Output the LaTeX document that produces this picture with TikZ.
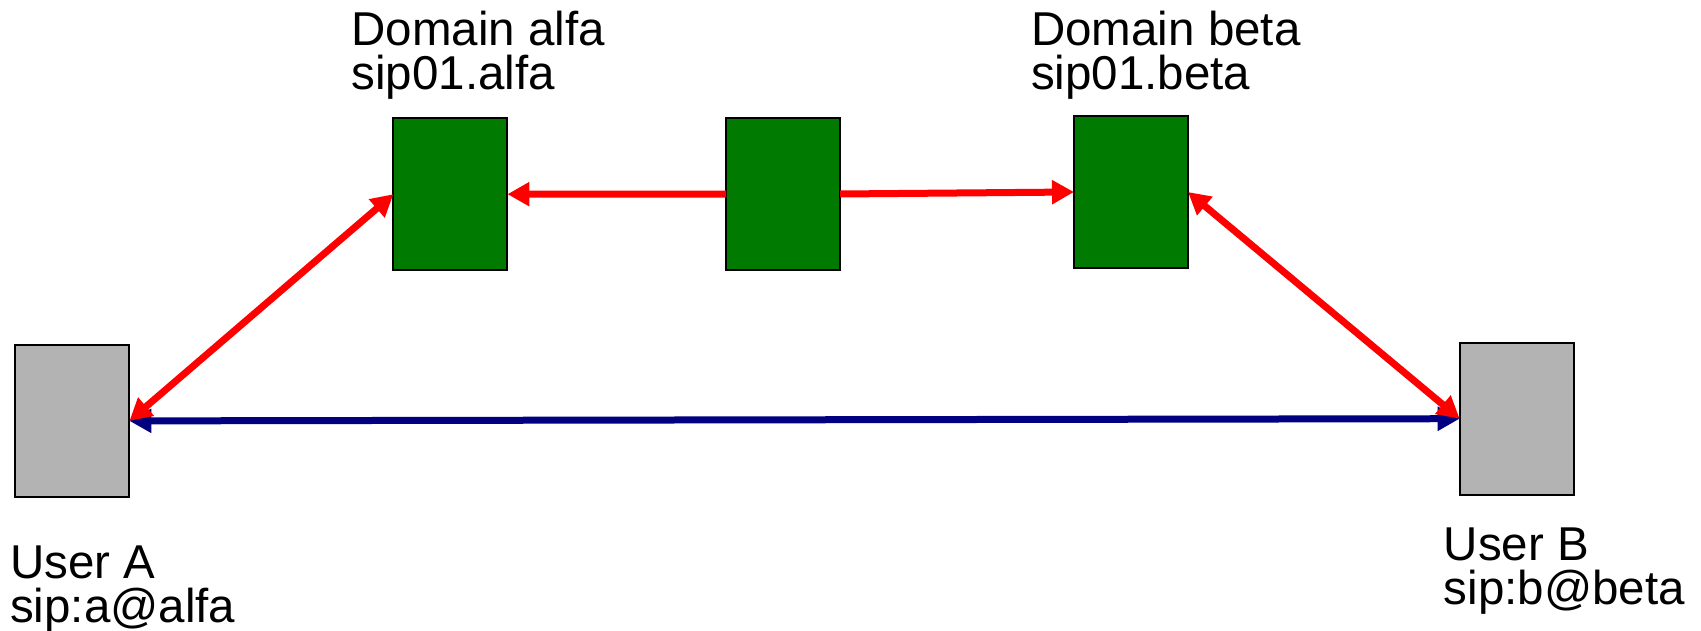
\documentclass[tikz,border=0pt]{standalone}
\usepackage{fontspec}
\setmainfont{Liberation Sans}
\usetikzlibrary{arrows.meta}
\definecolor{boxgreen}{RGB}{0,122,0}
\definecolor{boxgray}{RGB}{179,179,179}
\definecolor{linkred}{RGB}{255,0,0}
\definecolor{linkblue}{RGB}{0,0,128}
\begin{document}
\begin{tikzpicture}[x=1pt,y=-1pt,
  boxbase/.style={draw=black, line width=2pt, minimum width=114pt, minimum height=152pt, inner sep=0pt, outer sep=0pt},
  server/.style={boxbase, fill=boxgreen},
  client/.style={boxbase, fill=boxgray},
  lbl/.style={anchor=base west, align=left, inner sep=0pt, font=\fontsize{47.5}{44}\selectfont},
  redlink/.style={draw=linkred, line width=7pt},
  bluelink/.style={draw=linkblue, line width=7pt}]
\useasboundingbox (0,0) rectangle (1701,631);
\node[client] (A) at (72.4,420.9) {};
\node[server] (alfa) at (450.4,194.2) {};
\node[server] (mid) at (783,194) {};
\node[server] (beta) at (1131,192) {};
\node[client] (B) at (1516.7,418.7) {};
\node[lbl] (alfaT) at (351.5,90) {Domain alfa\\sip01.alfa};
\node[lbl] (betaT) at (1031,90) {Domain beta\\sip01.beta};
\node[lbl] (AT) at (10,622) {User A\\sip:a@alfa};
\node[lbl] (BT) at (1443.5,604) {User B\\sip:b@beta};
\draw[bluelink, {Triangle[length=22pt,width=23pt]}-{Triangle[length=22pt,width=23pt]}] (A.east) -- (B.west);
\draw[redlink, {Triangle[length=22pt,width=23pt]}-{Triangle[length=22pt,width=23pt]}] (A.east) -- (alfa.west);
\draw[redlink, -{Triangle[length=22pt,width=23pt]}] (mid.west) -- (alfa.east);
\draw[redlink, -{Triangle[length=22pt,width=23pt]}] (mid.east) -- (beta.west);
\draw[redlink, {Triangle[length=22pt,width=23pt]}-{Triangle[length=22pt,width=23pt]}] (beta.east) -- (B.west);
\end{tikzpicture}
\end{document}
